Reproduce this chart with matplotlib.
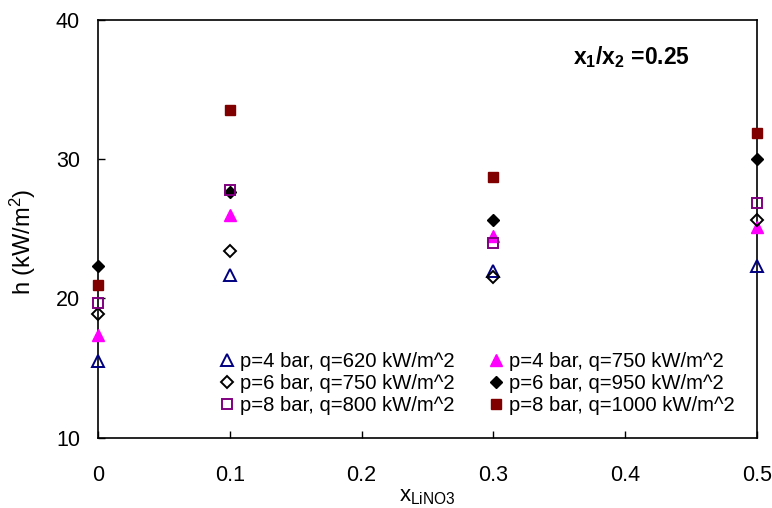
import matplotlib
matplotlib.use("Agg")
import matplotlib.pyplot as plt

plt.rcParams['font.family'] = ['Liberation Sans', 'DejaVu Sans']
plt.rcParams['mathtext.fontset'] = 'custom'
plt.rcParams['mathtext.rm'] = 'Liberation Sans'
plt.rcParams['mathtext.it'] = 'Liberation Sans:italic'
plt.rcParams['mathtext.bf'] = 'Liberation Sans:bold'

x_lino3 = [0.0, 0.1, 0.3, 0.5]

h_p4_q620 = [15.5, 21.7, 22.0, 22.3]
h_p4_q750 = [17.4, 26.0, 24.5, 25.1]
h_p6_q750 = [18.9, 23.4, 21.55, 25.65]
h_p6_q950 = [22.3, 27.65, 25.6, 30.0]
h_p8_q800 = [19.65, 27.8, 24.0, 26.85]
h_p8_q1000 = [20.95, 33.5, 28.7, 31.9]

labels = [
    "p=4 bar, q=620 kW/m^2",
    "p=4 bar, q=750 kW/m^2",
    "p=6 bar, q=750 kW/m^2",
    "p=6 bar, q=950 kW/m^2",
    "p=8 bar, q=800 kW/m^2",
    "p=8 bar, q=1000 kW/m^2",
]

x_ticks = [0, 0.1, 0.2, 0.3, 0.4, 0.5]
x_ticklabels = ["0", "0.1", "0.2", "0.3", "0.4", "0.5"]
y_ticks = [10, 20, 30, 40]

fig = plt.figure(figsize=(7.72, 5.08), dpi=100)
ax = fig.add_axes([98 / 772, 1 - 437.5 / 508, 659 / 772, 417.5 / 508])

styles = [
    (h_p4_q620, dict(marker='^', mfc='none', mec='#000080', ms=8.5, mew=1.4)),
    (h_p4_q750, dict(marker='^', mfc='#ff00ff', mec='#ff00ff', ms=8.5, mew=1.0)),
    (h_p6_q750, dict(marker='D', mfc='none', mec='black', ms=6.5, mew=1.4)),
    (h_p6_q950, dict(marker='D', mfc='black', mec='black', ms=6.5, mew=1.0)),
    (h_p8_q800, dict(marker='s', mfc='none', mec='#800080', ms=7.5, mew=1.4)),
    (h_p8_q1000, dict(marker='s', mfc='#800000', mec='#800000', ms=7.5, mew=1.0)),
]

for (vals, st), lab in zip(styles, labels):
    ax.plot(x_lino3, vals, linestyle='none', label=lab, clip_on=False, zorder=3, **st)

ax.set_xlim(0, 0.5)
ax.set_ylim(10, 40)
ax.set_xticks(x_ticks)
ax.set_xticklabels(x_ticklabels)
ax.set_yticks(y_ticks)
ax.tick_params(direction='in', length=5, width=1, labelsize=15.5)
ax.tick_params(axis='x', pad=20)
ax.tick_params(axis='y', pad=13)
for sp in ax.spines.values():
    sp.set_linewidth(1.2)

ax.set_xlabel(r'x$_{\mathrm{LiNO3}}$', fontsize=16, labelpad=0)
ax.set_ylabel(r'h (kW/m$^2$)', fontsize=17)
ax.yaxis.set_label_coords(-0.091, 0.468)

ax.text(0.809, 0.911, r'x$_\mathbf{1}$/x$_\mathbf{2}$ =0.25', transform=ax.transAxes,
        fontsize=16.5, fontweight='bold', ha='center', va='center')

handles, labs = ax.get_legend_handles_labels()
order = [0, 2, 4, 1, 3, 5]
ax.legend([handles[i] for i in order], [labs[i] for i in order], ncol=2,
          loc='upper left', bbox_to_anchor=(0.17, 0.23), frameon=False,
          fontsize=14.6, handlelength=0.7, handletextpad=0.3, columnspacing=1.65,
          labelspacing=0.15, borderpad=0)

fig.savefig("out.png", dpi=100)
